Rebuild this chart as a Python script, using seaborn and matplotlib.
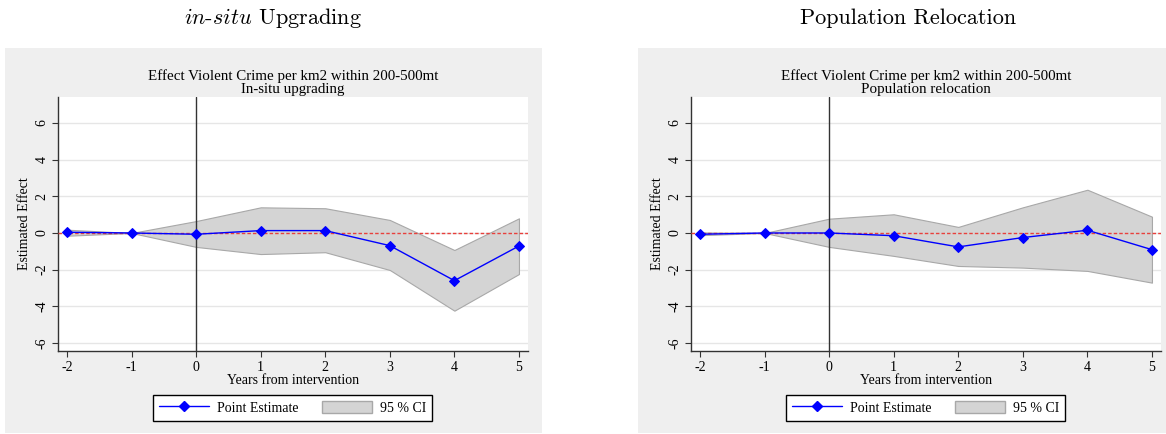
import numpy as np
import pandas as pd
import matplotlib
matplotlib.use("Agg")
import matplotlib.pyplot as plt
from matplotlib.patches import Rectangle, Patch
from matplotlib.lines import Line2D
import seaborn as sns

# ---- data ----
years = [-2, -1, 0, 1, 2, 3, 4, 5]

insitu_est = [0.04, 0.0, -0.07, 0.13, 0.13, -0.69, -2.60, -0.71]
insitu_hi = [0.18, 0.0, 0.65, 1.40, 1.35, 0.71, -0.93, 0.80]
insitu_lo = [-0.15, 0.0, -0.76, -1.15, -1.05, -2.02, -4.24, -2.24]

reloc_est = [-0.07, 0.0, 0.0, -0.15, -0.76, -0.25, 0.15, -0.91]
reloc_hi = [0.03, 0.0, 0.78, 1.02, 0.33, 1.40, 2.36, 0.89]
reloc_lo = [-0.12, 0.0, -0.76, -1.25, -1.80, -1.89, -2.07, -2.71]

yticks = [-6, -4, -2, 0, 2, 4, 6]

panels = [
    {"title": r"$in$-$situ$ Upgrading", "sub": "In-situ upgrading",
     "est": insitu_est, "hi": insitu_hi, "lo": insitu_lo},
    {"title": "Population Relocation", "sub": "Population relocation",
     "est": reloc_est, "hi": reloc_hi, "lo": reloc_lo},
]

sns.set_theme(style="white")
plt.rcParams["font.family"] = ["Liberation Serif", "DejaVu Serif"]
plt.rcParams["mathtext.fontset"] = "cm"
plt.rcParams["text.color"] = "black"
plt.rcParams["axes.labelcolor"] = "black"
plt.rcParams["xtick.color"] = "black"
plt.rcParams["ytick.color"] = "black"

W, H = 1166, 434
fig = plt.figure(figsize=(W / 100, H / 100), dpi=100)

# gray graph regions (stata style), drawn behind the axes
fig.patches.append(Rectangle((5 / W, 1 / H), 537 / W, 1 - 49 / H, transform=fig.transFigure,
                             facecolor="#efefef", edgecolor="none", zorder=-10))
fig.patches.append(Rectangle((638 / W, 1 / H), (W - 638) / W, 1 - 49 / H, transform=fig.transFigure,
                             facecolor="#efefef", edgecolor="none", zorder=-10))

ax_left = [58, 691]
title_x = [273, 908]
for i, p in enumerate(panels):
    ax = fig.add_axes([ax_left[i] / W, 1 - 351 / H, 470 / W, 254 / H])
    ax.set_facecolor("white")

    df = pd.DataFrame({"year": years, "est": p["est"], "hi": p["hi"], "lo": p["lo"]})

    ax.fill_between(df["year"], df["lo"], df["hi"], color="#d4d4d4",
                    edgecolor="#a8a8a8", linewidth=0.8, zorder=2)
    ax.axvline(0, color="#333333", linewidth=1.0, zorder=3)
    ax.axhline(0, color="#e8403c", linewidth=1.0, linestyle=(0, (2.5, 1.5)), zorder=3)
    sns.lineplot(data=df, x="year", y="est", ax=ax, color="#0000ff", marker="D",
                 markersize=5.5, markeredgecolor="#0000ff", linewidth=1.0, zorder=4,
                 legend=False)

    ax.set_xlim(-2.14, 5.14)
    ax.set_ylim(-6.44, 7.42)
    ax.set_xticks(years)
    ax.set_xticklabels([str(y) for y in years])
    ax.set_yticks(yticks)
    ax.set_yticklabels([str(y) for y in yticks], rotation=90, va="center")
    ax.grid(axis="y", color="#e6e6e6", linewidth=1.0)
    ax.grid(axis="x", visible=False)
    for s in ["top", "right"]:
        ax.spines[s].set_visible(False)
    for s in ["left", "bottom"]:
        ax.spines[s].set_color("#333333")
        ax.spines[s].set_linewidth(1.0)
    ax.tick_params(axis="both", which="major", direction="out", length=4, width=0.8,
                   color="#333333", labelsize=10, pad=3, bottom=True, left=True)
    ax.set_xlabel("Years from intervention", fontsize=10, labelpad=0)
    ax.set_ylabel("Estimated Effect", fontsize=10, labelpad=3)
    ax.set_title("Effect Violent Crime per km2 within 200-500mt\n" + p["sub"],
                 fontsize=10.8, linespacing=1.0, pad=3)

    handles = [
        Line2D([0], [0], color="#0000ff", marker="D", markersize=5.5, linewidth=1.0),
        Patch(facecolor="#d4d4d4", edgecolor="#a8a8a8"),
    ]
    leg = ax.legend(handles, ["Point Estimate", "95 % CI"], loc="center",
                    bbox_to_anchor=(0.499, -0.224), ncol=2, fontsize=10,
                    frameon=True, fancybox=False, handlelength=3.6, handleheight=1.0,
                    handletextpad=0.6, columnspacing=1.65, borderpad=0.45,
                    borderaxespad=0)
    leg.get_frame().set_edgecolor("black")
    leg.get_frame().set_linewidth(1.0)
    leg.get_frame().set_facecolor("white")
    leg.get_frame().set_alpha(1)

    fig.text(title_x[i] / W, 1 - 18 / H, p["title"], ha="center", va="center",
             fontsize=16, family="cmr10")

fig.savefig("out.png", dpi=100)
